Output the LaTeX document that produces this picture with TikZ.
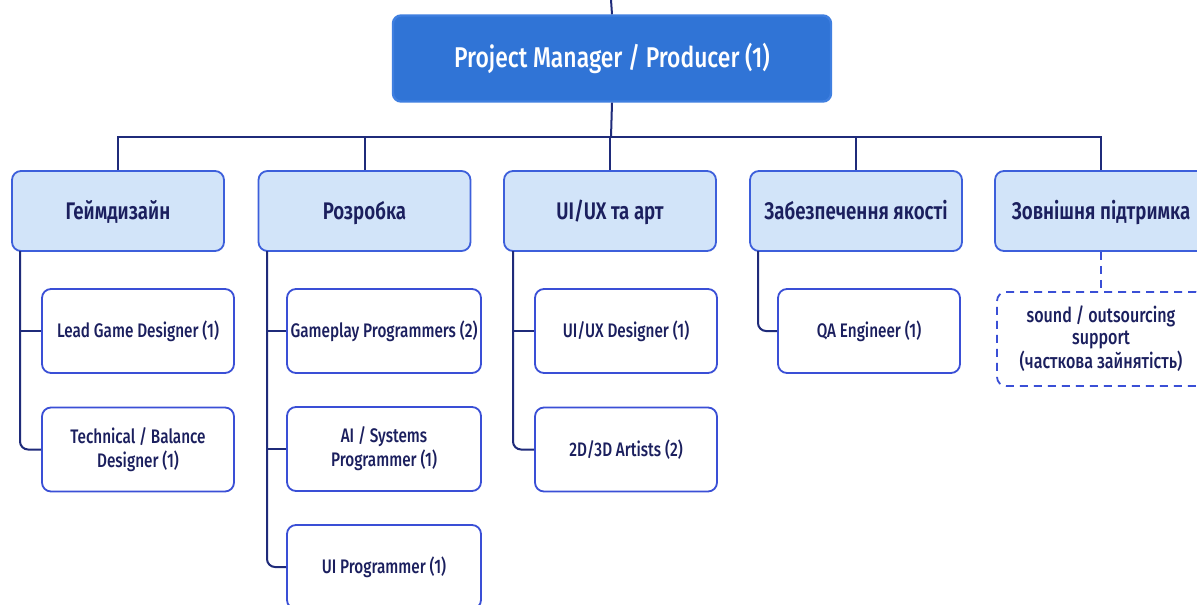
\documentclass[tikz,border=0pt]{standalone}
\usepackage{fontspec}
\setmainfont{Fira Sans}[FakeStretch=0.78]
\newfontfamily\medfont{Fira Sans Medium}[FakeStretch=0.78]
\newfontfamily\topfont{Fira Sans Medium}[FakeStretch=0.8]
\newfontfamily\semifont{Fira Sans SemiBold}[FakeStretch=0.78]
\definecolor{topfill}{HTML}{3074D6}
\definecolor{topdraw}{HTML}{3F7FE0}
\definecolor{catfill}{HTML}{D2E4F9}
\definecolor{catdraw}{HTML}{3D5FDB}
\definecolor{chdraw}{HTML}{3A4FD6}
\definecolor{txt}{HTML}{1B1F5E}
\definecolor{ln}{HTML}{1F2B7A}
\tikzset{
  topbox/.style={draw=topdraw, fill=topfill, line width=1.2pt, rounded corners=4pt,
    minimum width=219pt, minimum height=43pt, text=white, font=\topfont\fontsize{14.3}{16}\selectfont},
  catbox/.style={draw=catdraw, fill=catfill, line width=0.9pt, rounded corners=4.5pt,
    minimum width=106pt, minimum height=40pt, text=txt, text height=1.05em, text depth=0.2em,
    font=\semifont\fontsize{12}{14}\selectfont},
  chbox/.style={draw=chdraw, fill=white, line width=0.9pt, rounded corners=4.5pt, inner xsep=1pt,
    minimum height=42pt, text=txt, align=center, font=\medfont\fontsize{9.8}{12}\selectfont},
  conn/.style={draw=ln, line width=1pt},
}
\begin{document}
\begin{tikzpicture}[x=0.5pt,y=-0.5pt]
\useasboundingbox (0,0) rectangle (1197,604);
\clip (0,0) rectangle (1197,604);
\fill[white] (0,0) rectangle (1197,604);
% top
\node[topbox] (top) at (612,58.5) {Project Manager / Producer (1)};
\coordinate (topin) at (611,0);
\coordinate (bus) at (611,137);
% categories
\node[catbox] (c1) at (118,211) {Геймдизайн};
\node[catbox] (c2) at (364.5,211) {Розробка};
\node[catbox] (c3) at (610,211) {UI/UX та арт};
\node[catbox] (c4) at (856,211) {Забезпечення якості};
\node[catbox] (c5) at (1101,211) {Зовнішня підтримка};
% children
\node[chbox, minimum width=96pt] (a1) at (138,331) {Lead Game Designer (1)};
\node[chbox, minimum width=96pt] (a2) at (138,449.5) {Technical / Balance\\Designer (1)};
\node[chbox, minimum width=97pt] (b1) at (384,331) {Gameplay Programmers (2)};
\node[chbox, minimum width=97pt] (b2) at (384,449) {AI / Systems\\Programmer (1)};
\node[chbox, minimum width=97pt] (b3) at (384,567) {UI Programmer (1)};
\node[chbox, minimum width=91pt] (d1) at (626,331) {UI/UX Designer (1)};
\node[chbox, minimum width=91pt] (d2) at (626,449.5) {2D/3D Artists (2)};
\node[chbox, minimum width=91pt] (q1) at (869,331) {QA Engineer (1)};
\node[chbox, dashed, dash pattern=on 4pt off 3pt, minimum width=104pt, minimum height=47pt,
  font=\medfont\fontsize{10.3}{10.8}\selectfont] (s1) at (1101,339) {sound / outsourcing\\support\\(часткова зайнятість)};
% connectors
\draw[conn] (topin) -- (top.north);
\draw[conn] (top.south) -- (bus);
\foreach \c in {c1,c2,c3,c4,c5} { \draw[conn] (bus) -| (\c.north); }
\coordinate (t1) at (20,251);
\coordinate (t2) at (267,251);
\coordinate (t3) at (513,251);
\coordinate (t4) at (758,251);
\draw[conn] (t1) |- (a1.west);
\draw[conn, rounded corners=4pt] (t1) |- (a2.west);
\draw[conn] (t2) |- (b1.west);
\draw[conn] (t2) |- (b2.west);
\draw[conn, rounded corners=4pt] (t2) |- (b3.west);
\draw[conn] (t3) |- (d1.west);
\draw[conn, rounded corners=4pt] (t3) |- (d2.west);
\draw[conn, rounded corners=4pt] (t4) |- (q1.west);
\draw[draw=chdraw, line width=0.9pt, dash pattern=on 4pt off 3pt] (c5.south) -- (s1.north);
\end{tikzpicture}
\end{document}
